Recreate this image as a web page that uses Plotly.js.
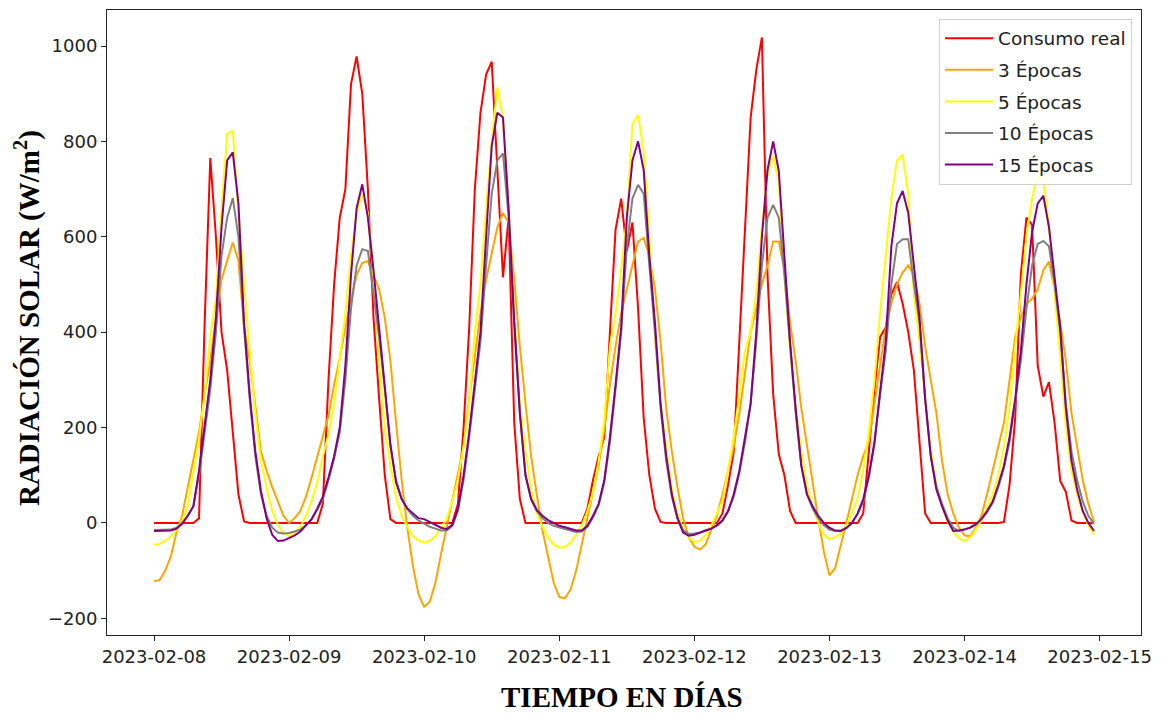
<!DOCTYPE html>
<html>
<head>
<meta charset="utf-8">
<script src="https://cdn.plot.ly/plotly-3.0.1.min.js"></script>
<style>
  html, body { margin: 0; padding: 0; background: #fff; }
  #chart { width: 1163px; height: 714px; }
</style>
</head>
<body>
<div id="chart"></div>
<script>
// Hourly solar radiation, 2023-02-08 00:00 to 2023-02-14 23:00 (W/m²)
const startDate = '2023-02-08T00:00:00';
const hoursCount = 168;

const consumoReal = [
  0,0,0,0,0,0,0,0,10,420,765,600,400,320,190,60,3,0,0,0,0,0,0,0,
  0,0,0,0,0,0,40,300,500,640,700,920,978,900,700,430,260,100,8,0,0,0,0,0,
  0,0,0,0,0,0,40,200,410,700,860,940,967,740,515,640,210,50,0,0,0,0,0,0,
  0,0,0,0,0,30,90,140,180,400,615,680,570,630,450,220,100,30,2,0,0,0,0,0,
  0,0,0,0,0,20,80,150,380,620,850,950,1018,520,270,144,100,25,0,0,0,0,0,0,
  0,0,0,0,0,0,20,150,280,390,410,480,505,460,400,320,170,20,0,0,0,0,0,0,
  0,0,0,0,0,0,0,2,80,220,520,640,625,330,265,295,210,88,65,5,0,0,0,0
];

const epocas3 = [
  -122,-120,-100,-70,-20,15,75,130,190,270,340,430,510,550,588,550,410,340,240,150,110,75,45,15,
  0,10,25,55,95,140,180,225,290,345,410,470,520,545,549,520,490,430,340,210,90,-10,-90,-150,
  -176,-165,-125,-65,-10,45,100,160,260,350,440,510,565,620,650,630,510,370,250,140,60,-15,-70,-125,
  -155,-158,-140,-100,-45,10,65,120,195,290,370,440,490,540,590,598,560,490,380,240,150,75,10,-30,
  -50,-56,-45,-15,15,60,110,160,230,310,400,450,500,540,590,590,530,420,340,240,160,80,10,-60,
  -110,-95,-50,0,50,100,140,170,250,330,410,460,500,525,540,520,460,370,300,230,130,60,20,-10,
  -26,-28,-10,15,60,110,160,210,300,390,430,460,470,490,530,548,490,420,340,230,160,90,40,2
];

const epocas5 = [
  -46,-44,-38,-28,-15,5,35,105,175,270,390,470,660,815,822,650,500,360,230,130,75,25,-3,-22,
  -27,-20,-8,15,45,85,140,185,249,340,440,560,650,690,650,520,340,200,120,55,15,-8,-28,-37,
  -41,-38,-28,-10,8,45,90,160,250,400,500,660,800,913,850,660,440,250,150,70,22,-8,-30,-45,
  -52,-50,-42,-25,-5,25,65,130,215,370,440,530,640,836,855,780,600,390,250,160,70,20,-12,-30,
  -40,-38,-26,-5,20,45,110,180,270,360,400,480,620,730,770,715,520,360,240,150,80,35,0,-25,
  -34,-30,-22,-5,20,50,110,190,300,440,560,680,760,772,690,480,380,260,150,80,35,3,-18,-32,
  -38,-30,-14,5,32,60,100,160,240,370,480,600,680,730,720,620,480,350,200,110,60,22,-5,-25
];

const epocas10 = [
  -15,-15,-15,-14,-10,0,15,35,100,190,280,400,560,640,681,600,410,260,140,60,15,-10,-20,-22,
  -21,-18,-14,-5,8,28,50,90,135,190,300,450,540,574,570,480,390,280,160,90,50,30,15,5,
  -2,-8,-12,-16,-16,-6,25,90,180,280,380,540,690,760,775,640,420,230,100,50,25,10,0,-6,
  -10,-13,-16,-19,-18,-8,12,38,85,170,280,400,580,680,709,690,540,400,240,130,55,10,-15,-23,
  -22,-20,-16,-12,-5,5,25,55,105,170,250,380,540,640,667,640,520,370,230,120,60,30,10,-5,
  -14,-17,-16,-10,0,18,45,95,165,270,360,500,585,595,595,500,420,260,140,75,40,10,-10,-17,
  -14,-10,-3,8,22,42,75,115,170,250,340,450,540,585,591,580,500,400,250,150,90,45,15,-2
];

const epocas15 = [
  -17,-17,-17,-16,-12,-2,15,35,110,200,300,430,620,760,777,670,420,270,150,67,10,-25,-38,-37,
  -32,-26,-18,-5,8,30,55,95,140,200,330,520,660,710,640,530,410,280,165,85,50,30,20,10,
  8,2,-4,-10,-13,-4,30,100,190,300,400,600,790,860,850,660,420,230,100,50,27,15,6,0,
  -6,-9,-13,-16,-16,-6,15,40,90,180,290,410,640,760,800,740,560,420,250,140,60,10,-20,-27,
  -25,-20,-16,-12,-5,5,25,60,110,180,250,400,600,740,800,738,560,380,240,120,60,35,15,0,
  -10,-16,-17,-11,0,20,50,100,170,280,380,580,670,696,650,540,430,260,140,70,35,5,-17,-16,
  -14,-10,-3,8,25,45,80,120,180,260,360,500,610,670,686,620,520,410,240,130,70,25,0,-17
];

const seriesNames = ['Consumo real', '3 Épocas', '5 Épocas', '10 Épocas', '15 Épocas'];
const seriesColors = ['#ff0000', '#ffa500', '#ffff00', '#808080', '#800080'];
const yTickValues = [-200, 0, 200, 400, 600, 800, 1000];

// hourly timestamps
const times = [];
const t0 = new Date(startDate + 'Z').getTime();
for (let i = 0; i < hoursCount; i++) {
  times.push(new Date(t0 + i * 3600000).toISOString().slice(0, 19).replace('T', ' '));
}

const allSeries = [consumoReal, epocas3, epocas5, epocas10, epocas15];
const traces = allSeries.map((vals, i) => ({
  type: 'scatter',
  mode: 'lines',
  x: times,
  y: vals,
  name: seriesNames[i],
  legendgroup: 'g' + i,
  line: { color: seriesColors[i], width: 2 }
}));

const tickFont = { family: 'DejaVu Sans, sans-serif', size: 18, color: '#222' };
const titleFont = { family: 'Liberation Serif, Times New Roman, serif', size: 29, color: '#000', weight: 'bold' };

const layout = {
  width: 1163,
  height: 714,
  margin: { l: 107, r: 22, t: 10, b: 79 },
  paper_bgcolor: '#fff',
  plot_bgcolor: '#fff',
  showlegend: true,
  xaxis: {
    type: 'date',
    range: ['2023-02-07 15:39', '2023-02-15 07:21'],
    tick0: '2023-02-08',
    dtick: 86400000,
    tickformat: '%Y-%m-%d',
    showgrid: false,
    zeroline: false,
    showline: true,
    mirror: true,
    linecolor: '#222',
    linewidth: 1,
    ticks: 'outside',
    ticklen: 5,
    tickcolor: '#222',
    tickfont: tickFont
  },
  yaxis: {
    range: [-235, 1075.5],
    tickvals: yTickValues,
    showgrid: false,
    zeroline: false,
    showline: true,
    mirror: true,
    linecolor: '#222',
    linewidth: 1,
    ticks: 'outside',
    ticklen: 5,
    tickcolor: '#222',
    tickfont: tickFont
  },
  legend: {
    x: 0.9913,
    y: 0.986,
    xanchor: 'right',
    yanchor: 'top',
    bgcolor: 'rgba(255,255,255,0.85)',
    bordercolor: '#d0d0d0',
    borderwidth: 1,
    font: { family: 'DejaVu Sans, sans-serif', size: 18.5, color: '#222' },
    itemwidth: 48,
    traceorder: 'grouped',
    tracegroupgap: 4.5
  },
  annotations: [
    {
      text: 'RADIACIÓN SOLAR (W/m<sup>2</sup>)',
      xref: 'paper', yref: 'paper',
      x: -0.0774, y: 0.507,
      xanchor: 'center', yanchor: 'middle',
      textangle: -90,
      showarrow: false,
      font: titleFont
    },
    {
      text: 'TIEMPO EN DÍAS',
      xref: 'paper', yref: 'paper',
      x: 0.498, y: -0.0992,
      xanchor: 'center', yanchor: 'middle',
      showarrow: false,
      font: titleFont
    }
  ]
};

Plotly.newPlot('chart', traces, layout, { staticPlot: true, displayModeBar: false });
</script>
</body>
</html>
